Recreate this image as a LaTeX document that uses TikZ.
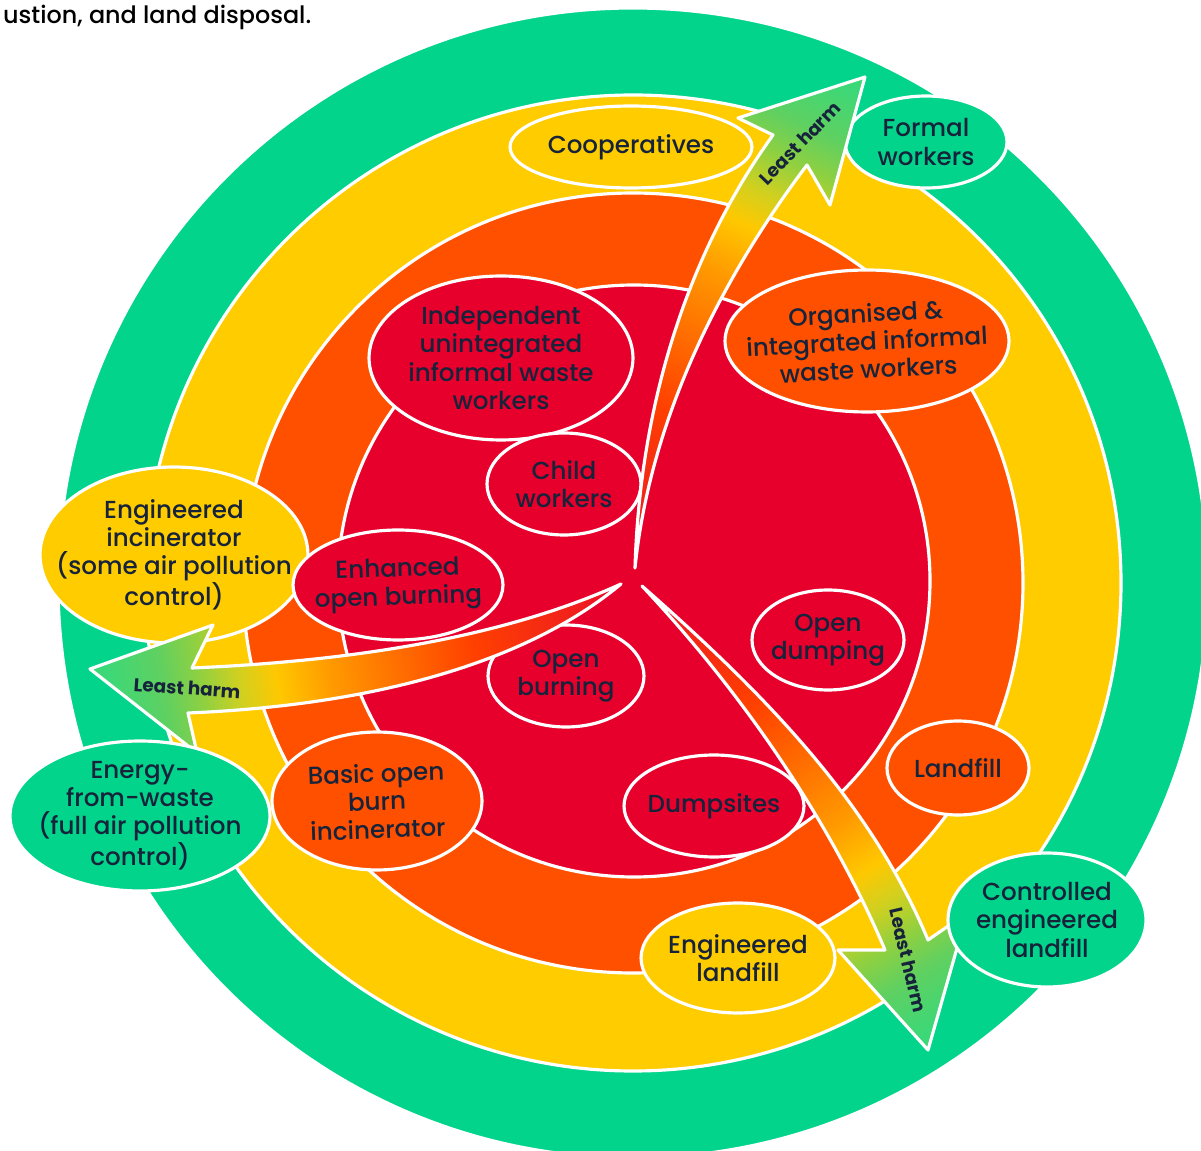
\documentclass[tikz,border=0pt]{standalone}
\usepackage{fontspec}
\setmainfont{Poppins}[UprightFont={* Medium}, BoldFont={* Bold}]
\usepackage{tikz}
\usetikzlibrary{shapes.geometric}

\definecolor{wgreen}{RGB}{2,212,140}
\definecolor{wyellow}{RGB}{255,204,0}
\definecolor{worange}{RGB}{255,80,0}
\definecolor{wred}{RGB}{232,0,45}
\definecolor{ink}{RGB}{22,35,58}
\definecolor{hred}{RGB}{240,30,30}
\definecolor{hredorange}{RGB}{255,64,0}
\definecolor{horange}{RGB}{255,106,0}
\definecolor{hamber}{RGB}{255,154,0}
\definecolor{hyellow}{RGB}{255,200,0}
\definecolor{hmustard}{RGB}{208,208,32}
\definecolor{hlime}{RGB}{144,208,64}
\definecolor{hleaf}{RGB}{96,208,96}
\definecolor{hgreen}{RGB}{60,216,120}

\pgfdeclareverticalshading{harm}{100bp}{color(0bp)=(wred); color(25bp)=(wred); color(29bp)=(hred); color(39.5bp)=(hredorange); color(46bp)=(horange); color(53bp)=(hamber); color(58bp)=(hyellow); color(61.5bp)=(hmustard); color(65bp)=(hlime); color(68.5bp)=(hleaf); color(73.5bp)=(hgreen); color(100bp)=(hgreen)}

\tikzset{
	ring/.style={fill=#1, draw=white, line width=1.8pt},
	blob/.style={ellipse, fill=#1, draw=white, line width=1.8pt, inner sep=0pt},
	blobtext/.style={text=ink, align=center, font=\fontsize{14}{16}\selectfont},
	harmarrow/.style={draw=white, line width=1.8pt, line join=round},
	harmtext/.style={text=ink, font=\fontsize{10.5}{12}\selectfont\bfseries}
}

\begin{document}
\begin{tikzpicture}[x=0.02cm, y=-0.02cm]
	\useasboundingbox (0,0) rectangle (1201,1151);

	\node[anchor=base west, text=black, font=\fontsize{13.6}{16}\selectfont] (intro) at (-3,24) {ustion, and land disposal.};

	\fill[ring=wgreen] (633,583) circle[radius=575];
	\fill[ring=wyellow] (633,583) circle[radius=488];
	\fill[ring=worange] (633,583) circle[radius=390];
	\fill[ring=wred] (634,581) circle[radius=296];

	\node[blob=wyellow, minimum width=4.84cm, minimum height=1.64cm, label={[blobtext]center:Cooperatives}] (coop) at (631,147) {};
	\node[blob=wgreen, minimum width=3.24cm, minimum height=1.84cm, label={[blobtext]center:{Formal\\workers}}] (formal) at (926,142) {};
	\node[blob=wred, minimum width=5.28cm, minimum height=3.28cm, label={[blobtext]center:{Independent\\unintegrated\\informal waste\\workers}}] (indep) at (501,358) {};
	\node[blob=worange, minimum width=5.68cm, minimum height=2.84cm, label={[blobtext, rotate=3]center:{Organised \&\\integrated informal\\waste workers}}] (organ) at (867,341) {};
	\node[blob=wred, minimum width=3.08cm, minimum height=2.04cm, label={[blobtext]center:{Child\\workers}}] (child) at (564,484) {};
	\node[blob=wyellow, minimum width=5.36cm, minimum height=3.52cm, label={[blobtext]center:{Engineered\\incinerator\\(some air pollution\\control)}}] (incin) at (174,555) {};
	\node[blob=wred, minimum width=4.2cm, minimum height=2.2cm, label={[blobtext, rotate=2]center:{Enhanced\\open burning}}] (enhanced) at (398,585) {};
	\node[blob=wred, minimum width=3.12cm, minimum height=2.04cm, label={[blobtext]center:{Open\\burning}}] (openburn) at (566,676) {};
	\node[blob=wred, minimum width=3.04cm, minimum height=2.0cm, label={[blobtext]center:{Open\\dumping}}] (opendump) at (828,640) {};
	\node[blob=worange, minimum width=2.84cm, minimum height=1.88cm, label={[blobtext]center:Landfill}] (landfill) at (958,768) {};
	\node[blob=worange, minimum width=4.2cm, minimum height=2.76cm, label={[blobtext, rotate=2]center:{Basic open\\burn\\incinerator}}] (basic) at (377,801) {};
	\node[blob=wred, minimum width=3.6cm, minimum height=2.04cm, label={[blobtext]center:Dumpsites}] (dumps) at (714,806) {};
	\node[blob=wyellow, minimum width=3.88cm, minimum height=2.2cm, label={[blobtext]center:{Engineered\\landfill}}] (englf) at (738,958) {};

	\path[harmarrow, path picture={\shade[shading=harm, transform canvas={rotate around={-25.1:(750,322.5)}}] (480,51.5) rectangle (1020,593.5);}]
		(635,568) .. controls (640,400) and (690,250) .. (773,135) -- (738,118) -- (865,77) -- (830,205) -- (807,165) .. controls (720,280) and (650,420) .. (635,568) -- cycle;
	\path[harmarrow, path picture={\shade[shading=harm, transform canvas={rotate around={99.1:(355.5,626.5)}}] (85.5,357.5) rectangle (625.5,895.5);}]
		(621,584) .. controls (520,630) and (380,660) .. (192,668) -- (213,625) -- (90,669) -- (197,753) -- (188,713) .. controls (380,705) and (530,660) .. (621,584) -- cycle;
	\path[harmarrow, path picture={\shade[shading=harm, transform canvas={rotate around={-148.3:(785,818)}}] (515,545.5) rectangle (1055,1090.5);}]
		(642,586) .. controls (760,690) and (870,800) .. (928,940) -- (967,913) -- (928,1050) -- (838,950) -- (885,950) .. controls (830,820) and (740,690) .. (642,586) -- cycle;

	\node[harmtext, rotate=46] (uptext) at (800,143) {Least harm};
	\node[harmtext, rotate=-4] (lefttext) at (187,688) {Least harm};
	\node[harmtext, rotate=-77] (downtext) at (908,960) {Least harm};

	\node[blob=wgreen, minimum width=5.2cm, minimum height=3.0cm, label={[blobtext]center:{Energy-\\from-waste\\(full air pollution\\control)}}] (energy) at (140,816) {};
	\node[blob=wgreen, minimum width=3.96cm, minimum height=2.68cm, label={[blobtext]center:{Controlled\\engineered\\landfill}}] (ctrllf) at (1047,920) {};
\end{tikzpicture}
\end{document}
